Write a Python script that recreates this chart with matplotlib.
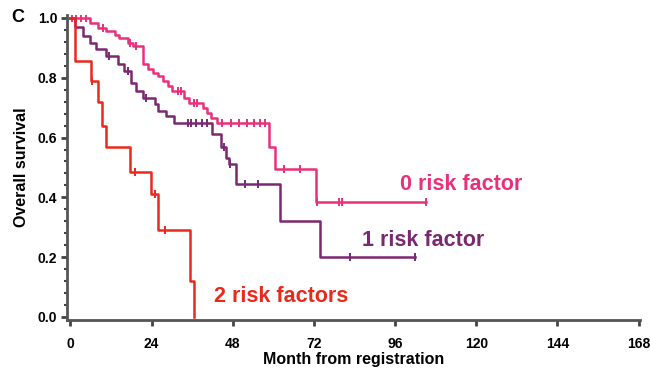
import matplotlib
matplotlib.use("Agg")
import numpy as np
import matplotlib.pyplot as plt
from matplotlib.ticker import MultipleLocator

plt.rcParams["font.family"] = ["Liberation Sans", "DejaVu Sans"]
plt.rcParams["font.weight"] = "bold"

# Kaplan-Meier steps (month, survival) per risk group
T0 = [0, 5.7, 8.2, 10.6, 13.1, 14.5, 17.0, 18.5, 21.4, 22.9, 24.4, 25.8, 27.3,
      28.8, 30.2, 33.7, 35.2, 39.1, 40.5, 41.5, 43.5, 58.7, 60.6, 72.6]
S0 = [1.0, 0.983, 0.967, 0.956, 0.944, 0.933, 0.917, 0.906, 0.845, 0.828, 0.817,
      0.806, 0.789, 0.772, 0.755, 0.733, 0.717, 0.70, 0.683, 0.667, 0.648, 0.567,
      0.495, 0.386]
END0 = 105.2
CENS0 = [0.4, 1.8, 3.3, 4.7, 9.7, 17.5, 19.5, 31.7, 32.7, 36.5, 37.5, 44.9,
         47.4, 49.9, 52.3, 54.3, 56.2, 57.7, 63.1, 68.0, 72.9, 79.3, 80.2, 105.2]

T1 = [0, 1.5, 3.8, 5.7, 7.7, 10.6, 14.1, 16.0, 18.0, 19.5, 21.4, 24.9, 25.8,
      28.3, 30.7, 42.0, 44.5, 45.9, 46.9, 48.9, 62.0, 73.8]
S1 = [1.0, 0.97, 0.94, 0.917, 0.895, 0.872, 0.845, 0.822, 0.783, 0.756, 0.733,
      0.711, 0.689, 0.672, 0.65, 0.611, 0.567, 0.533, 0.51, 0.445, 0.322, 0.2]
END1 = 101.8
CENS1 = [11.5, 17.0, 22.5, 34.8, 35.8, 37.3, 38.8, 40.3, 45.5, 47.3, 51.6,
         55.5, 82.7, 101.8]

T2 = [0, 1.3, 6.2, 8.2, 9.5, 10.5, 17.7, 23.9, 25.8, 35.3, 36.6]
S2 = [1.0, 0.857, 0.79, 0.72, 0.64, 0.57, 0.485, 0.41, 0.29, 0.12, 0.0]
END2 = 36.6
CENS2 = [6.5, 19.0, 24.9, 28.1]

LABELS = ["0 risk factor", "1 risk factor", "2 risk factors"]
COLORS = ["#e8317a", "#7a2870", "#e8291c"]
# label anchors in data coordinates (month, survival)
LABEL_X = [115.4, 104.2, 62.4]
LABEL_Y = [0.442, 0.256, 0.069]

GROUPS = [(T0, S0, END0, CENS0), (T1, S1, END1, CENS1), (T2, S2, END2, CENS2)]

fig = plt.figure(figsize=(6.5, 3.75), dpi=100)
ax = fig.add_axes([0.103, 0.147, 0.882, 0.813])

for (t, s, end, cens), color in zip(GROUPS, COLORS):
    tt = list(t) + [end]
    ss = list(s) + [s[-1]]
    ax.step(tt, ss, where="post", color=color, lw=1.8)
    # censored observations as tick marks on the curve
    cy = [s[np.searchsorted(t, c, side="right") - 1] for c in cens]
    ax.plot(cens, cy, ls="none", marker="|", ms=6, mew=1.4, color=color)

for label, color, x, y in zip(LABELS, COLORS, LABEL_X, LABEL_Y):
    ax.text(x, y, label, color=color, fontsize=15.5, fontweight="bold",
            ha="center", va="center")

ax.set_xlim(-1, 168.5)
ax.set_ylim(-0.01, 1.01)
ax.set_xticks(np.arange(0, 169, 24))
ax.set_yticks([0.0, 0.2, 0.4, 0.6, 0.8, 1.0])
ax.set_yticklabels(["0.0", "0.2", "0.4", "0.6", "0.8", "1.0"])
ax.yaxis.set_minor_locator(MultipleLocator(0.04))

for side in ["top", "right"]:
    ax.spines[side].set_visible(False)
for side in ["left", "bottom"]:
    ax.spines[side].set_color("#555555")
    ax.spines[side].set_linewidth(2)

ax.tick_params(axis="both", which="major", direction="out", length=4,
               width=2, color="#444444", labelsize=10, pad=3)
ax.tick_params(axis="y", which="minor", direction="out", length=2.5,
               width=1.5, color="#444444")
ax.tick_params(axis="x", pad=8)

ax.set_xlabel("Month from registration", fontsize=11.5, fontweight="bold",
              labelpad=1)
ax.set_ylabel("Overall survival", fontsize=11.5, fontweight="bold",
              labelpad=6)

fig.text(0.028, 0.953, "C", fontsize=13, fontweight="bold",
         ha="center", va="center")

fig.savefig("out.png", dpi=100)
